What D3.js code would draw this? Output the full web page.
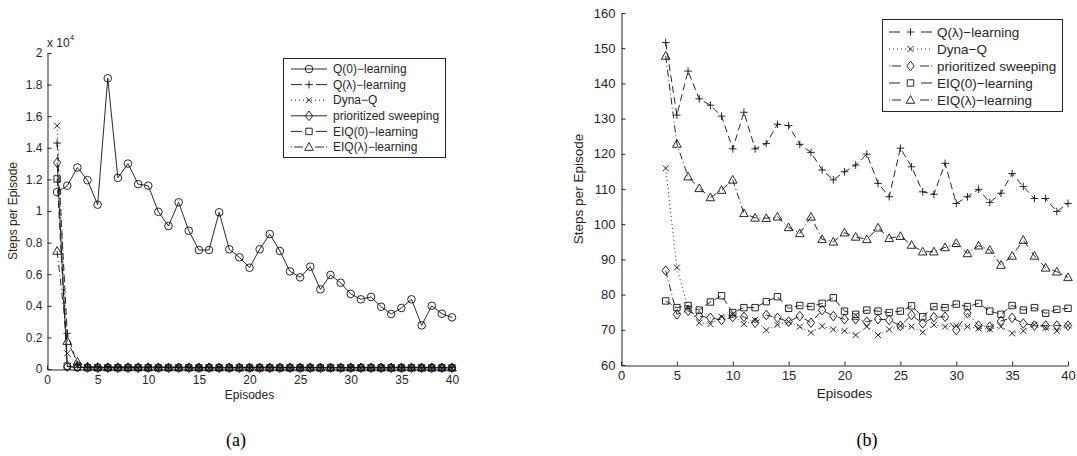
<!DOCTYPE html>
<html>
<head>
<meta charset="utf-8">
<script src="https://cdn.jsdelivr.net/npm/d3@7"></script>
<style>
  body { margin: 0; background: #fff; }
  svg { display: block; font-family: "Liberation Sans", Arimo, "DejaVu Sans", sans-serif; }
  .axis path, .axis line { stroke: #262626; stroke-width: 1; }
  .axis text { fill: #262626; }
</style>
</head>
<body>
<svg id="chart" width="1077" height="456"></svg>
<script>
// episode numbers on the x axis
const episodes = [1, 2, 3, 4, 5, 6, 7, 8, 9, 10, 11, 12, 13, 14, 15, 16, 17, 18, 19, 20,
  21, 22, 23, 24, 25, 26, 27, 28, 29, 30, 31, 32, 33, 34, 35, 36, 37, 38, 39, 40];

// steps per episode
const qZero = [11200, 11600, 12750, 11950, 10400, 18400, 12100, 13000, 11700, 11600,
  9950, 9050, 10550, 8750, 7530, 7530, 9920, 7580, 7070, 6410,
  7580, 8540, 7470, 6180, 5800, 6480, 5040, 5950, 5460, 4750,
  4410, 4560, 3940, 3480, 3860, 4410, 2760, 4000, 3500, 3270];
const qLambda = [14300, 2260, 260, 151.6, 131.0, 143.5, 135.6, 133.8, 130.7, 121.4,
  131.8, 121.4, 122.9, 128.4, 128.0, 122.7, 120.4, 115.4, 112.6, 114.9,
  116.8, 119.9, 111.6, 107.8, 121.6, 116.3, 109.2, 108.5, 117.3, 105.9,
  107.8, 109.9, 106.2, 108.8, 114.4, 110.7, 107.3, 107.3, 103.6, 105.9];
const dynaQ = [15400, 990, 200, 115.9, 87.7, 76.1, 72.0, 71.6, 73.7, 74.4,
  71.6, 72.8, 69.9, 71.4, 72.3, 70.9, 69.2, 71.0, 70.1, 69.7,
  68.5, 70.9, 68.5, 70.1, 71.1, 70.9, 69.3, 71.4, 70.9, 71.2,
  70.9, 70.4, 70.2, 70.9, 69.0, 69.7, 71.4, 70.6, 69.7, 71.2];
const prioritized = [13060, 150, 110, 86.8, 74.4, 75.4, 73.9, 73.4, 72.8, 73.6,
  73.7, 72.0, 74.2, 73.4, 72.3, 73.9, 72.0, 75.6, 73.9, 73.0,
  73.0, 72.3, 73.0, 72.8, 71.1, 74.2, 71.8, 73.6, 73.7, 69.9,
  74.7, 71.2, 70.9, 72.5, 73.4, 71.8, 71.2, 71.2, 71.2, 71.2];
const eiqZero = [12030, 180, 100, 78.2, 76.3, 76.9, 75.6, 77.9, 79.7, 74.9,
  76.3, 76.3, 78.0, 79.4, 76.1, 76.9, 76.6, 77.5, 79.1, 75.3,
  74.4, 75.6, 75.3, 74.9, 75.3, 76.8, 73.7, 76.6, 76.3, 77.3,
  76.6, 77.5, 75.3, 74.4, 76.9, 75.6, 76.3, 74.7, 75.8, 76.1];
const eiqLambda = [7470, 1770, 460, 147.8, 122.8, 113.5, 110.2, 107.6, 109.7, 112.6,
  103.1, 101.8, 101.7, 102.1, 99.1, 97.4, 102.1, 95.7, 95.0, 97.6,
  96.4, 95.7, 99.0, 96.0, 96.6, 94.1, 92.2, 92.2, 93.4, 94.6,
  91.7, 93.9, 92.7, 88.4, 91.0, 95.5, 91.0, 87.6, 86.5, 84.9];

const xTicks = [0, 5, 10, 15, 20, 25, 30, 35, 40];
const leftYTicks = [0, 2000, 4000, 6000, 8000, 10000, 12000, 14000, 16000, 18000, 20000];
const rightYTicks = [60, 70, 80, 90, 100, 110, 120, 130, 140, 150, 160];

const svg = d3.select('#chart');

// stroke-only markers, like matlab's
function markerPath(type) {
  switch (type) {
    case 'circle': return 'M-3.8,0A3.8,3.8 0 1,0 3.8,0A3.8,3.8 0 1,0 -3.8,0Z';
    case 'plus': return 'M-3.8,0H3.8M0,-3.8V3.8';
    case 'cross': return 'M-3,-3L3,3M-3,3L3,-3';
    case 'diamond': return 'M0,-4.8L3.7,0L0,4.8L-3.7,0Z';
    case 'square': return 'M-3.2,-3.2H3.2V3.2H-3.2Z';
    case 'triangle': return 'M0,-4.4L4.3,3.3L-4.3,3.3Z';
  }
}

const dashes = {solid: null, dashed: '7,4', dotted: '1,3', dashdot: '7,3,1,3'};

function legendDash(style, w) {
  if (style == 'dashed') return `11,${w - 22}`;
  if (style == 'dotted') return '1,3';
  if (style == 'dashdot') return `1,2,9,${w - 24},9,2,1`;
  return null;
}

function drawPanel(p) {
  let x = d3.scaleLinear().domain([0, 40]).range([p.left, p.right]);
  let y = d3.scaleLinear().domain(p.yDomain).range([p.bottom, p.top]);
  let g = svg.append('g');

  g.append('g').attr('class', 'axis')
    .attr('transform', `translate(0,${p.bottom + 0.5})`)
    .call(d3.axisBottom(x).tickValues(xTicks).tickSizeInner(-4).tickSizeOuter(0).tickPadding(p.xPad))
    .attr('font-size', p.tickSize).attr('font-family', null);

  g.append('g').attr('class', 'axis')
    .attr('transform', `translate(${p.left + 0.5},0)`)
    .call(d3.axisLeft(y).tickValues(p.yTicks).tickSizeInner(-4).tickSizeOuter(0)
      .tickPadding(p.yPad).tickFormat(p.yFormat))
    .attr('font-size', p.tickSize).attr('font-family', null);

  // axis titles
  g.append('text')
    .attr('x', (p.left + p.right) / 2).attr('y', p.bottom + p.titleGap)
    .attr('text-anchor', 'middle').attr('font-size', p.labelSize).attr('fill', '#262626')
    .text('Episodes');
  g.append('text')
    .attr('transform', `translate(${p.yTitleX},${(p.top + p.bottom) / 2}) rotate(-90)`)
    .attr('text-anchor', 'middle').attr('font-size', p.labelSize).attr('fill', '#262626')
    .text('Steps per Episode');

  // caption
  g.append('text')
    .attr('x', p.captionX).attr('y', 446)
    .attr('text-anchor', 'middle').attr('font-size', 18)
    .attr('font-family', '"Liberation Serif", "Times New Roman", serif')
    .text(p.caption);

  let line = d3.line().x(d => x(d.ep)).y(d => y(d.v));

  p.series.forEach(s => {
    let pts = episodes.map((ep, i) => ({ep: ep, v: s.values[i]})).filter(d => d.ep >= p.firstEp);
    g.append('path').datum(pts)
      .attr('d', line)
      .attr('fill', 'none').attr('stroke', '#111').attr('stroke-width', 0.9)
      .attr('stroke-dasharray', dashes[s.style]);
    g.selectAll(null).data(pts).enter().append('path')
      .attr('transform', d => `translate(${x(d.ep)},${y(d.v)})`)
      .attr('d', markerPath(s.marker))
      .attr('fill', 'none').attr('stroke', '#111').attr('stroke-width', 0.9);
  });

  // legend
  let lg = p.legend;
  g.append('rect')
    .attr('x', lg.x + 0.5).attr('y', lg.y + 0.5).attr('width', lg.w).attr('height', lg.h)
    .attr('fill', '#fff').attr('stroke', '#262626').attr('stroke-width', 1);
  p.series.forEach((s, i) => {
    let ry = lg.firstRow + i * lg.rowGap;
    let x1 = lg.x + lg.lineX, x2 = x1 + lg.lineW;
    g.append('line')
      .attr('x1', x1).attr('x2', x2).attr('y1', ry).attr('y2', ry)
      .attr('stroke', '#111').attr('stroke-width', 0.9)
      .attr('stroke-dasharray', legendDash(s.style, lg.lineW));
    g.append('path')
      .attr('transform', `translate(${(x1 + x2) / 2},${ry})`)
      .attr('d', markerPath(s.marker))
      .attr('fill', 'none').attr('stroke', '#111').attr('stroke-width', 0.9);
    g.append('text')
      .attr('x', x2 + lg.textGap).attr('y', ry).attr('dy', '0.35em')
      .attr('font-size', lg.fontSize).attr('fill', '#262626')
      .text(s.name);
  });

  return g;
}

// panel (a): all six methods, scaled by 10^4
let left = drawPanel({
  left: 47, right: 452, top: 53, bottom: 369,
  yDomain: [0, 20000], yTicks: leftYTicks, yFormat: v => d3.format('~g')(v / 10000),
  tickSize: 12, labelSize: 12, xPad: 6, yPad: 5, titleGap: 30, yTitleX: 17,
  caption: '(a)', captionX: 236, firstEp: 1,
  series: [
    {name: 'Q(0)\u2212learning', values: qZero, marker: 'circle', style: 'solid'},
    {name: 'Q(\u03bb)\u2212learning', values: qLambda, marker: 'plus', style: 'dashed'},
    {name: 'Dyna\u2212Q', values: dynaQ, marker: 'cross', style: 'dotted'},
    {name: 'prioritized sweeping', values: prioritized, marker: 'diamond', style: 'solid'},
    {name: 'EIQ(0)\u2212learning', values: eiqZero, marker: 'square', style: 'dashed'},
    {name: 'EIQ(\u03bb)\u2212learning', values: eiqLambda, marker: 'triangle', style: 'dashdot'}
  ],
  legend: {x: 283, y: 58, w: 162, h: 99, firstRow: 69, rowGap: 15.6,
    lineX: 8, lineW: 36, textGap: 6, fontSize: 12}
});

left.append('text')
  .attr('x', 47).attr('y', 47).attr('font-size', 12).attr('fill', '#262626')
  .text('x 10')
  .append('tspan').attr('dy', -7).attr('font-size', 8).text('4');

// panel (b): zoom on the last episodes, without Q(0)
drawPanel({
  left: 621, right: 1068, top: 13, bottom: 365,
  yDomain: [60, 160], yTicks: rightYTicks, yFormat: d3.format('d'),
  tickSize: 13, labelSize: 13.5, xPad: 5, yPad: 6, titleGap: 33, yTitleX: 583,
  caption: '(b)', captionX: 867, firstEp: 4,
  series: [
    {name: 'Q(\u03bb)\u2212learning', values: qLambda, marker: 'plus', style: 'dashed'},
    {name: 'Dyna\u2212Q', values: dynaQ, marker: 'cross', style: 'dotted'},
    {name: 'prioritized sweeping', values: prioritized, marker: 'diamond', style: 'dashdot'},
    {name: 'EIQ(0)\u2212learning', values: eiqZero, marker: 'square', style: 'dashed'},
    {name: 'EIQ(\u03bb)\u2212learning', values: eiqLambda, marker: 'triangle', style: 'dashdot'}
  ],
  legend: {x: 882, y: 19, w: 180, h: 92, firstRow: 32, rowGap: 17,
    lineX: 7, lineW: 43, textGap: 5, fontSize: 13.5}
});
</script>
</body>
</html>
